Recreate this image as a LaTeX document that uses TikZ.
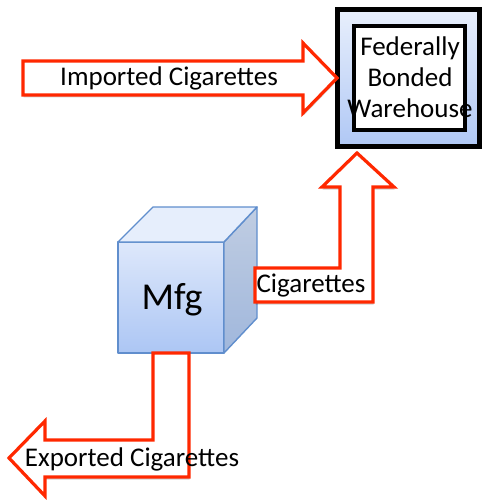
\documentclass[tikz,border=0pt]{standalone}
\usepackage{fontspec}
\setmainfont{Carlito}
\usetikzlibrary{shadows}
\definecolor{arrowred}{RGB}{255,40,0}
\definecolor{boxtop}{RGB}{232,239,252}
\definecolor{boxbot}{RGB}{176,200,245}
\definecolor{cubeedge}{RGB}{96,142,205}
\definecolor{cubefronttop}{RGB}{222,232,251}
\definecolor{cubefrontbot}{RGB}{172,198,244}
\definecolor{cubeside}{RGB}{192,205,226}
\definecolor{cubesidebot}{RGB}{160,183,220}
\definecolor{cubetop}{RGB}{230,238,252}
\tikzset{
  flowarrow/.style={draw=arrowred, line width=3.2pt, fill=white, line join=miter,
    drop shadow={shadow xshift=0.6pt, shadow yshift=-2.5pt, fill=black, opacity=0.18}},
  label/.style={inner sep=0pt, font=\fontsize{27}{31}\selectfont, text=black},
  cubeface/.style={draw=cubeedge, line width=1.4pt, line join=round},
}
\begin{document}
\begin{tikzpicture}[x=1pt, y=-1pt]
\useasboundingbox (0,0) rectangle (483,500);

% Federally bonded warehouse: outer shaded box with inner white box
\draw[line width=5pt, top color=boxtop, bottom color=boxbot,
      drop shadow={shadow xshift=1pt, shadow yshift=-2pt, fill=black, opacity=0.25}]
  (337.5,9.5) rectangle (479.5,146);
\draw[line width=4pt, fill=white] (354,26) rectangle (465,130);
\node[label, align=center] (warehouse) at (410,77) {Federally\\Bonded\\Warehouse};

% Imported cigarettes arrow into the warehouse
\draw[flowarrow] (23,61) -- (303,61) -- (303,43) -- (337,78) -- (303,113)
  -- (303,95) -- (23,95) -- cycle;
\node[label] (imported) at (169,78) {Imported Cigarettes};

% Manufacturer cube
\shade[cubeface, top color=cubefronttop, bottom color=cubefrontbot]
  (118,242) rectangle (224,353);
\shade[cubeface, top color=cubeside, bottom color=cubesidebot]
  (224,242) -- (257,207) -- (257,318) -- (224,353) -- cycle;
\fill[cubetop] (118,242) -- (153,207) -- (257,207) -- (224,242) -- cycle;
\draw[cubeface] (118,242) -- (153,207) -- (257,207) -- (224,242) -- cycle;
\node[inner sep=0pt, font=\fontsize{38}{42}\selectfont] (mfg) at (172,300) {Mfg};

% Cigarettes from the manufacturer up to the warehouse
\draw[flowarrow] (255,268) -- (340,268) -- (340,187) -- (322,187) -- (357,153)
  -- (394,187) -- (373,187) -- (373,302) -- (255,302) -- cycle;
\node[label] (cigs) at (311,286) {Cigarettes};

% Exported cigarettes leaving the manufacturer
\draw[flowarrow] (153,353) -- (189,353) -- (189,477) -- (45,477) -- (45,496)
  -- (9,458) -- (45,421) -- (45,440) -- (153,440) -- cycle;
\node[label] (exported) at (132,459) {Exported Cigarettes};
\end{tikzpicture}
\end{document}
